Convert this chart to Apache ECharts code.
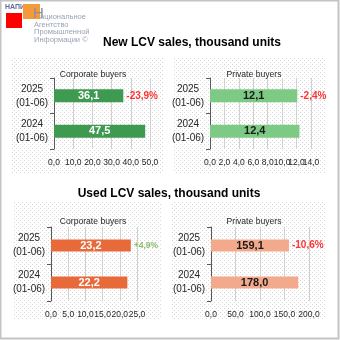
<!DOCTYPE html>
<html><head><meta charset="utf-8">
<script src="https://cdn.jsdelivr.net/npm/echarts@6/dist/echarts.min.js"></script>
<style>html,body{margin:0;padding:0;background:#fff}#c{width:340px;height:340px}</style>
</head><body><div id="c"></div>
<script>
var categories = ['2024\n(01-06)', '2025\n(01-06)'];
var newCorporate = [47.5, 36.1];
var newPrivate = [12.4, 12.1];
var usedCorporate = [22.2, 23.2];
var usedPrivate = [178.0, 159.1];
var changes = ['-23,9%', '-2,4%', '+4,9%', '-10,6%'];
var axisMax = [50, 14, 25, 200];
var axisStep = [10, 2, 5, 50];
var titles = ['New LCV sales, thousand units', 'Used LCV sales, thousand units'];
var subtitles = ['Corporate buyers', 'Private buyers', 'Corporate buyers', 'Private buyers'];

var FONT = 'Liberation Sans';
var pc = document.createElement('canvas'); pc.width = 4; pc.height = 4;
var g = pc.getContext('2d'); g.fillStyle = '#d6d6d6';
g.fillRect(0,0,1,1); g.fillRect(2,2,1,1);

var fmt = function(v){ return v.toFixed(1).replace('.', ','); };
var series4 = [newCorporate, newPrivate, usedCorporate, usedPrivate];
var barColors = ['#3f9a51', '#7dca84', '#e8693a', '#f3a98c'];
var valColors = ['#ffffff', '#1a1a1a', '#ffffff', '#1a1a1a'];
var chgColors = ['#ff0000', '#ff0000', '#70ad47', '#ff0000'];
var chgSizes = [10, 10, 8.5, 10];
var grids = [
  {left: 54, top: 78, width: 96, height: 71},
  {left: 210, top: 78, width: 101, height: 71},
  {left: 51, top: 227, width: 86, height: 74},
  {left: 211, top: 227, width: 98, height: 74}
];
var panels = [[12,57,151,116],[173,57,153,116],[13,202,149,118],[172,202,153,118]];
var subPos = [[88,65],[249,65],[88,212],[249,212]];

var graphic = [
  {type:'rect', shape:{x:0.5,y:0.5,width:338,height:338}, style:{fill:'#fff', stroke:'#c4c4c4', lineWidth:2}, z:-10}
];
panels.forEach(function(p){
  graphic.push({type:'rect', shape:{x:p[0],y:p[1],width:p[2],height:p[3]}, style:{fill:{image:pc, repeat:'repeat'}}, z:-5});
});
// logo
graphic.push({type:'text', left:5, top:4, style:{text:'НАПИ', fill:'#5b6d96', font:'bold 7px '+FONT}});
graphic.push({type:'rect', shape:{x:6,y:13,width:16,height:15}, style:{fill:'#ff0000'}});
graphic.push({type:'rect', shape:{x:23,y:4,width:17,height:15}, style:{fill:'#f59a3b'}});
graphic.push({type:'text', left:33, top:6, style:{text:'Н', fill:'#8a8f98', font:'15px '+FONT}});
graphic.push({type:'text', left:40, top:13, style:{text:'ациональное', fill:'#9aa3b3', font:'7.5px '+FONT}});
graphic.push({type:'text', left:34, top:20.5, style:{text:'Агентство', fill:'#9aa3b3', font:'7.5px '+FONT}});
graphic.push({type:'text', left:34, top:28, style:{text:'Промышленной', fill:'#9aa3b3', font:'7.5px '+FONT}});
graphic.push({type:'text', left:34, top:35.5, style:{text:'Информации ©', fill:'#9aa3b3', font:'7.5px '+FONT}});

var titleArr = [
  {text: titles[0], left: 187, top: 32, textAlign:'center', textStyle:{fontFamily:FONT, fontWeight:'bold', fontSize:12, color:'#000'}},
  {text: titles[1], left: 164, top: 183, textAlign:'center', textStyle:{fontFamily:FONT, fontWeight:'bold', fontSize:12, color:'#000'}}
];
subPos.forEach(function(s,i){
  titleArr.push({text: subtitles[i], left: s[0], top: s[1], textAlign:'center', textStyle:{fontFamily:FONT, fontWeight:'normal', fontSize:8.6, color:'#262626'}});
});

var xAxes = [], yAxes = [], series = [];
for (var i = 0; i < 4; i++) {
  xAxes.push({type:'value', gridIndex:i, min:0, max:axisMax[i], interval:axisStep[i],
    axisLine:{show:false}, axisTick:{show:false},
    splitLine:{show:true, lineStyle:{color:'#d0d0d0', width:1}},
    axisLabel:{fontFamily:FONT, fontSize:8.5, color:'#262626', margin:9, hideOverlap:false, showMaxLabel:false,
      formatter:function(v){return fmt(v);}}});
  xAxes.push({type:'value', gridIndex:i, position:'bottom', offset:0, min:0, max:axisMax[i], interval:axisStep[i],
    axisLine:{show:false}, axisTick:{show:false}, splitLine:{show:false},
    axisLabel:{fontFamily:FONT, fontSize:8.5, color:'#262626', margin:9, hideOverlap:false, showMaxLabel:true,
      formatter:(function(mx){return function(v){return v === mx ? fmt(v) : '';};})(axisMax[i])}});
  yAxes.push({type:'category', gridIndex:i, data:categories,
    axisLine:{show:true, lineStyle:{color:'#595959', width:1}},
    axisTick:{show:true, length:4, lineStyle:{color:'#595959'}},
    axisLabel:{fontFamily:FONT, fontSize:10, color:'#262626', align:'center', margin:22, lineHeight:14}});
  series.push({type:'bar', xAxisIndex:2*i, yAxisIndex:i, data:series4[i], barWidth:i<2?13:12,
    itemStyle:{color:barColors[i]},
    label:{show:true, position:'inside', color:valColors[i], fontFamily:FONT, fontWeight:'bold', fontSize:11,
      formatter:function(p){return fmt(p.value);}}});
  series.push({type:'scatter', xAxisIndex:2*i, yAxisIndex:i, symbolSize:0, silent:true,
    data:[[series4[i][1], categories[1]]],
    label:{show:true, position:'right', distance:3, color:chgColors[i], fontFamily:FONT, fontWeight:'bold', fontSize:chgSizes[i],
      formatter:(function(t){return function(){return t;};})(changes[i])}});
}

var chart = echarts.init(document.getElementById('c'), null, {renderer:'canvas'});
chart.setOption({
  animation:false,
  title: titleArr,
  graphic: graphic,
  grid: grids,
  xAxis: xAxes,
  yAxis: yAxes,
  series: series
});
</script></body></html>
